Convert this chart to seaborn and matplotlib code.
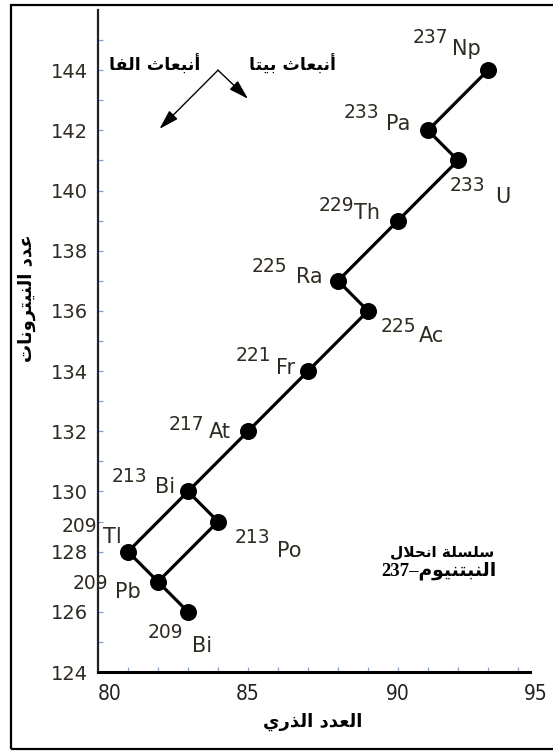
import matplotlib
matplotlib.use("Agg")
import matplotlib.pyplot as plt
import pandas as pd
import seaborn as sns
from matplotlib.patches import Rectangle

# Neptunium-237 decay series
symbols = ["Np", "Pa", "U", "Th", "Ra", "Ac", "Fr", "At", "Bi", "Po", "Tl", "Pb", "Bi"]
mass_numbers = [237, 233, 233, 229, 225, 225, 221, 217, 213, 213, 209, 209, 209]
atomic_numbers = [93, 91, 92, 90, 88, 89, 87, 85, 83, 84, 81, 82, 83]
neutron_numbers = [144, 142, 141, 139, 137, 136, 134, 132, 130, 129, 128, 127, 126]

# decay paths (indices into the arrays above)
main_path = [0, 1, 2, 3, 4, 5, 6, 7, 8, 9, 11, 12]
branch_path = [8, 10, 11]

x_ticks = [80, 85, 90, 95]
y_ticks = list(range(124, 145, 2))

# label placement: (mass-number offset, symbol offset) in pixels from each point
label_offsets = [
    ((-75, 27), (-36, 15)),
    ((-84, 12), (-42, 0)),
    ((-8, -31), (37, -43)),
    ((-79, 10), (-44, 2)),
    ((-86, 9), (-42, -2)),
    ((13, -21), (51, -31)),
    ((-72, 10), (-32, -3)),
    ((-79, 1), (-39, -7)),
    ((-76, 9), (-33, -2)),
    ((17, -21), (59, -35)),
    ((-66, 20), (-25, 9)),
    ((-85, -7), (-43, -16)),
    ((-40, -26), (4, -40)),
]

# --- minimal Arabic shaping (presentation forms, visual order) ---
_FORMS = {
    "ا": ("\ufe8d", "\ufe8e", None, None),
    "أ": ("\ufe83", "\ufe84", None, None),
    "ب": ("\ufe8f", "\ufe90", "\ufe91", "\ufe92"),
    "ة": ("\ufe93", "\ufe94", None, None),
    "ت": ("\ufe95", "\ufe96", "\ufe97", "\ufe98"),
    "ث": ("\ufe99", "\ufe9a", "\ufe9b", "\ufe9c"),
    "ح": ("\ufea1", "\ufea2", "\ufea3", "\ufea4"),
    "د": ("\ufea9", "\ufeaa", None, None),
    "ذ": ("\ufeab", "\ufeac", None, None),
    "ر": ("\ufead", "\ufeae", None, None),
    "س": ("\ufeb1", "\ufeb2", "\ufeb3", "\ufeb4"),
    "ع": ("\ufec9", "\ufeca", "\ufecb", "\ufecc"),
    "ف": ("\ufed1", "\ufed2", "\ufed3", "\ufed4"),
    "ل": ("\ufedd", "\ufede", "\ufedf", "\ufee0"),
    "م": ("\ufee1", "\ufee2", "\ufee3", "\ufee4"),
    "ن": ("\ufee5", "\ufee6", "\ufee7", "\ufee8"),
    "و": ("\ufeed", "\ufeee", None, None),
    "ي": ("\ufef1", "\ufef2", "\ufef3", "\ufef4"),
    "\ufefb": ("\ufefb", "\ufefc", None, None),
    "\ufef7": ("\ufef7", "\ufef8", None, None),
}


def arabic(text):
    text = text.replace("لا", "\ufefb").replace("لأ", "\ufef7")
    out = []
    for i, ch in enumerate(text):
        if ch not in _FORMS:
            out.append(ch)
            continue
        prev = text[i - 1] if i > 0 else None
        nxt = text[i + 1] if i + 1 < len(text) else None
        iso, fin, ini, med = _FORMS[ch]
        joins_prev = prev in _FORMS and _FORMS[prev][2] is not None
        joins_next = ini is not None and nxt in _FORMS
        if joins_prev and joins_next:
            out.append(med)
        elif joins_prev:
            out.append(fin)
        elif joins_next:
            out.append(ini)
        else:
            out.append(iso)
    return "".join(reversed(out))


sns.set_theme(style="white")
plt.rcParams["font.family"] = ["DejaVu Sans"]

df = pd.DataFrame({"Z": atomic_numbers, "N": neutron_numbers})

fig = plt.figure(figsize=(5.53, 7.51), dpi=100)
ax = fig.add_axes([98 / 553, 79 / 751, 450 / 553, 662 / 751])

for path in (main_path, branch_path):
    sns.lineplot(data=df.iloc[path], x="Z", y="N", sort=False, estimator=None,
                 color="black", linewidth=2.3, ax=ax, zorder=2)
sns.scatterplot(data=df, x="Z", y="N", color="black", s=150, edgecolor="black",
                linewidth=0, ax=ax, zorder=3)

text_color = "#2f2b22"
for i in range(len(symbols)):
    (mdx, mdy), (sdx, sdy) = label_offsets[i]
    xy = (atomic_numbers[i], neutron_numbers[i])
    ax.annotate(str(mass_numbers[i]), xy=xy, xytext=(mdx, mdy),
                textcoords="offset pixels", ha="left", va="baseline",
                fontsize=13.5, color=text_color)
    ax.annotate(symbols[i], xy=xy, xytext=(sdx, sdy),
                textcoords="offset pixels", ha="left", va="baseline",
                fontsize=15, color=text_color)

# alpha / beta emission arrows
arrow = dict(arrowstyle="-|>,head_length=1.0,head_width=0.3", color="black",
             lw=1.0, shrinkA=0, shrinkB=0)
ax.annotate("", xy=(82.05, 142.05), xytext=(84, 144), arrowprops=arrow)
ax.annotate("", xy=(85, 143.05), xytext=(84, 144), arrowprops=arrow)
ax.text(81.9, 144.17, arabic("أنبعاث الفا"), ha="center", va="center",
        fontsize=12.5, fontweight="bold", color="black")
ax.text(86.47, 144.17, arabic("أنبعاث بيتا"), ha="center", va="center",
        fontsize=12.5, fontweight="bold", color="black")

# series caption
ax.text(91.47, 128.0, arabic("سلسلة انحلال"), ha="center", va="center",
        fontsize=11, fontweight="bold", color="black")
ax.text(91.37, 127.37, "237–" + arabic("النبتنيوم"), ha="center", va="center",
        fontsize=13.5, fontweight="bold", color="black",
        family=["Liberation Serif", "DejaVu Sans"])

ax.set_xlim(80, 95)
ax.set_ylim(124, 146)
ax.set_xticks(x_ticks)
ax.set_xticklabels([str(v) for v in x_ticks], family="DejaVu Sans",
                   fontstretch="condensed", fontsize=15, color="#222222")
ax.set_xticks(range(81, 95), minor=True)
ax.set_yticks(y_ticks)
ax.set_yticklabels([str(v) for v in y_ticks], fontsize=14, color=text_color)
ax.set_yticks(range(125, 146), minor=True)
ax.xaxis.remove_overlapping_locs = False
ax.yaxis.remove_overlapping_locs = False
ax.tick_params(which="major", length=0)
ax.tick_params(axis="x", which="major", pad=9)
ax.tick_params(axis="y", which="major", pad=7)
ax.tick_params(which="minor", direction="in", length=3.5, width=0.9,
               color="#7ba4e4", bottom=True, left=True)
labels = ax.get_xticklabels()
labels[0].set_ha("left")
labels[-1].set_ha("right")

for side in ("top", "right"):
    ax.spines[side].set_visible(False)
ax.spines["left"].set_color("#222222")
ax.spines["left"].set_linewidth(1.6)
ax.spines["bottom"].set_color("black")
ax.spines["bottom"].set_linewidth(2.2)
ax.spines["bottom"].set_bounds(80, 94.4)

ax.set_xlabel(arabic("العدد الذري"), fontsize=13, fontweight="bold",
              color="black", va="center")
ax.xaxis.set_label_coords(0.478, -0.0755)
ax.set_ylabel(arabic("عدد النيترونات"), fontsize=13, fontweight="bold",
              color="black", va="center")
ax.yaxis.set_label_coords(-0.158, 0.565)

fig.add_artist(Rectangle((11 / 553, 2 / 751), 560 / 553, 744 / 751,
                         transform=fig.transFigure, fill=False,
                         edgecolor="black", linewidth=1.6))

fig.savefig("out.png", dpi=100)
